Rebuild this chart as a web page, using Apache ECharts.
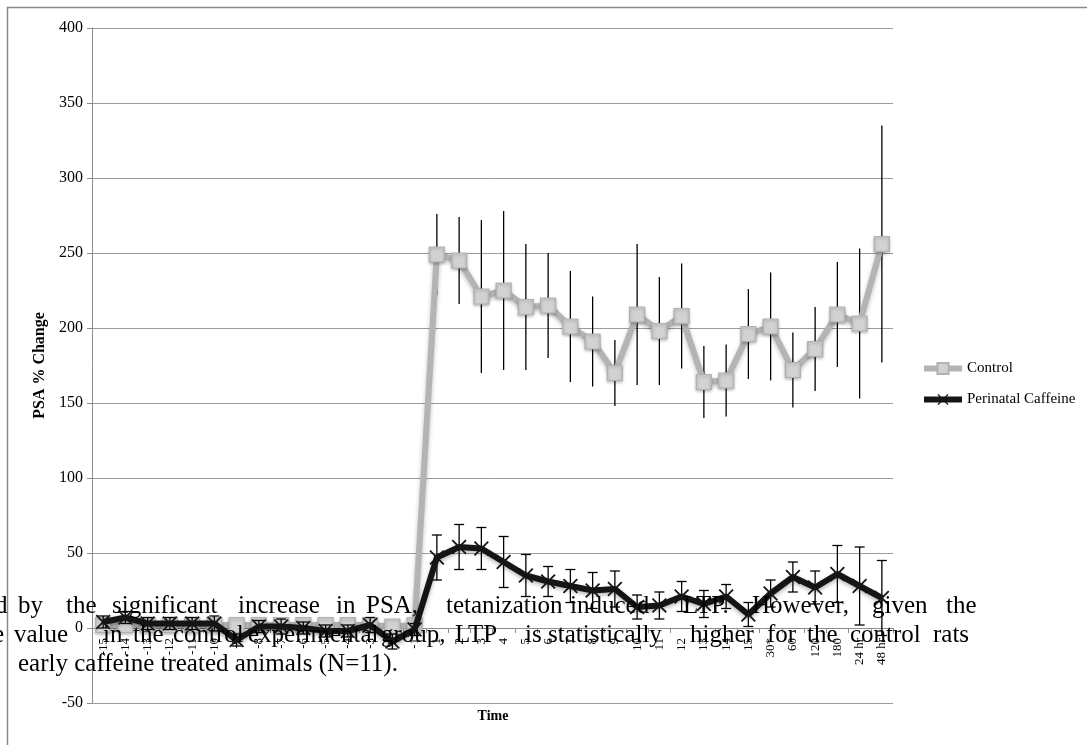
<!DOCTYPE html>
<html>
<head>
<meta charset="utf-8">
<script src="https://cdn.jsdelivr.net/npm/echarts@6/dist/echarts.min.js"></script>
<style>
html,body{margin:0;padding:0;background:#fff;}
#chart{width:1087px;height:745px;}
</style>
</head>
<body>
<div id="chart"></div>
<script>
// ---- data ----
var categories = ['-15','-14','-13','-12','-11','-10','-9','-8','-7','-6','-5','-4','-3','-2','-1',
  '1','2','3','4','5','6','7','8','9','10','11','12','13','14','15','30*','60','120','180','24 hr','48 hr'];
var controlValues = [2,2,2,2,2,2,2,2,2,2,2,2,2,1,2,
  249,245,221,225,214,215,201,191,170,209,198,208,164,165,196,201,172,186,209,203,256];
var controlErrors = [3,3,3,3,3,3,3,3,3,3,3,3,3,3,3,
  27,29,51,53,42,35,37,30,22,47,36,35,24,24,30,36,25,28,35,50,79];
var caffeineValues = [4,7,3,3,3,3,-8,1,1,0,-2,-2,2,-9,-1,
  47,54,53,44,35,31,28,25,26,14,15,21,16,21,9,23,34,27,36,28,20];
var caffeineErrors = [4,4,4,4,4,5,4,4,5,4,4,4,5,5,4,
  15,15,14,17,14,10,11,12,12,8,9,10,9,8,8,9,10,11,19,26,25];
var yTicks = {min: -50, max: 400, interval: 50};
var seriesNames = ['Control', 'Perinatal Caffeine'];
var textLines = [
  [['d',-5],['by',18],['the',66],['significant',112],['increase',238],['in',336],['PSA,',366],['tetanization',446],['induced',570],['LTP.',683],['However,',752],['given',872],['the',946]],
  [['e',-7],['value',14],['in',103],['the',133],['control',173],['experimental',248],['group,',381],['LTP',455],['is',525],['statistically',548],['higher',690],['for',767],['the',807],['control',850],['rats',933]],
  [['early caffeine treated animals (N=11).',18]]
];

var serif = '"Liberation Serif","Times New Roman",Times,serif';

function errData(vals, errs) {
  return vals.map(function (v, i) { return [i, v - errs[i], v + errs[i]]; });
}

function errRender(cap) {
  return function (params, api) {
    var i = api.value(0);
    var lo = api.coord([i, api.value(1)]);
    var hi = api.coord([i, api.value(2)]);
    var st = {stroke: '#000', lineWidth: 1.3};
    var ch = [{type: 'line', shape: {x1: lo[0], y1: lo[1], x2: hi[0], y2: hi[1]}, style: st}];
    if (cap) {
      ch.push({type: 'line', shape: {x1: lo[0] - cap, y1: lo[1], x2: lo[0] + cap, y2: lo[1]}, style: st});
      ch.push({type: 'line', shape: {x1: hi[0] - cap, y1: hi[1], x2: hi[0] + cap, y2: hi[1]}, style: st});
    }
    return {type: 'group', children: ch};
  };
}

var graphics = [{
  type: 'rect', z: 0, silent: true,
  shape: {x: 7.5, y: 7.5, width: 1300, height: 1000},
  style: {fill: 'none', stroke: '#8a8a8a', lineWidth: 1.5}
}, {
  type: 'text', z: 100,
  style: {text: 'Time', x: 493, y: 716, align: 'center', verticalAlign: 'middle',
    font: 'bold 14px ' + serif, fill: '#000'}
}];
var lineCenters = [606, 635, 664];
textLines.forEach(function (words, li) {
  words.forEach(function (w) {
    graphics.push({
      type: 'text', z: 100, silent: true,
      style: {text: w[0], x: w[1], y: lineCenters[li], align: 'left', verticalAlign: 'middle',
        font: '25px ' + serif, fill: '#000'}
    });
  });
});

var xSymbol = 'path://M0,1.2 L1.2,0 L7,5.8 L12.8,0 L14,1.2 L8.2,7 L14,12.8 L12.8,14 L7,8.2 L1.2,14 L0,12.8 L5.8,7 Z';

var option = {
  animation: false,
  backgroundColor: '#fff',
  grid: {left: 92, right: 194, top: 28, bottom: 42, containLabel: false},
  legend: {
    orient: 'vertical', left: 916, top: 356, itemWidth: 38, itemHeight: 14, itemGap: 16,
    data: [
      {name: seriesNames[0], lineStyle: {width: 6, color: '#b4b4b4'}},
      {name: seriesNames[1], lineStyle: {width: 6, color: '#151515'}}
    ],
    textStyle: {fontFamily: serif, fontSize: 15, color: '#000'}
  },
  xAxis: {
    type: 'category', data: categories, boundaryGap: true,
    position: 'bottom', offset: -75,
    axisLine: {onZero: false, lineStyle: {color: '#8c8c8c', width: 1}},
    axisTick: {show: true, length: 5, interval: 0, lineStyle: {color: '#8c8c8c'}},
    axisLabel: {interval: 0, rotate: 90, fontFamily: serif, fontSize: 13, color: '#000', margin: 10},
    splitLine: {show: false}
  },
  yAxis: {
    type: 'value', min: yTicks.min, max: yTicks.max, interval: yTicks.interval,
    name: 'PSA % Change', nameLocation: 'middle', nameGap: 42,
    nameTextStyle: {fontFamily: serif, fontSize: 16, fontWeight: 'bold', color: '#000'},
    axisLine: {show: true, lineStyle: {color: '#8c8c8c', width: 1}},
    axisTick: {show: true, length: 5, lineStyle: {color: '#8c8c8c'}},
    axisLabel: {fontFamily: serif, fontSize: 16, color: '#000', margin: 9},
    splitLine: {show: true, lineStyle: {color: '#9c9c9c', width: 1}}
  },
  series: [{
    type: 'custom', name: 'ctrlErr', z: 1, silent: true,
    renderItem: errRender(0),
    data: errData(controlValues, controlErrors)
  }, {
    type: 'line', name: seriesNames[0], z: 2,
    data: controlValues,
    symbol: 'rect', symbolSize: 15, showAllSymbol: true,
    lineStyle: {color: '#b4b4b4', width: 6, shadowColor: 'rgba(0,0,0,0.25)', shadowBlur: 4, shadowOffsetY: 2},
    itemStyle: {color: '#d2d2d2', borderColor: '#b2b2b2', borderWidth: 1.2,
      shadowColor: 'rgba(0,0,0,0.25)', shadowBlur: 3, shadowOffsetY: 1.5}
  }, {
    type: 'custom', name: 'cafErr', z: 3, silent: true,
    renderItem: errRender(5),
    data: errData(caffeineValues, caffeineErrors)
  }, {
    type: 'line', name: seriesNames[1], z: 4,
    data: caffeineValues,
    symbol: xSymbol, symbolSize: 15, showAllSymbol: true,
    lineStyle: {color: '#151515', width: 6, shadowColor: 'rgba(0,0,0,0.3)', shadowBlur: 4, shadowOffsetY: 2},
    itemStyle: {color: '#151515', borderWidth: 0}
  }],
  graphic: graphics
};

var chart = echarts.init(document.getElementById('chart'), null, {renderer: 'canvas'});
chart.setOption(option);
</script>
</body>
</html>
